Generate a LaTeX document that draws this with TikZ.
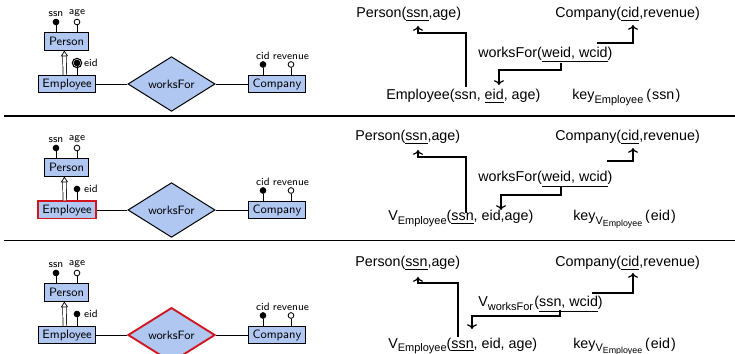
\documentclass[tikz,border=0pt]{standalone}
\usepackage{fontspec}
\newfontfamily\relfont{Liberation Sans}
\usetikzlibrary{shapes.geometric,arrows.meta}
\definecolor{erfill}{RGB}{176,199,242}
\definecolor{erred}{RGB}{210,20,30}
\newcommand{\relsub}[1]{\raisebox{-2.2pt}{\fontsize{7.7}{9}\selectfont #1}}
\newcommand{\relsubsub}[1]{\raisebox{-1.6pt}{\fontsize{6.2}{7}\selectfont #1}}
\tikzset{
	entity/.style={draw, fill=erfill, line width=0.7pt, font=\sffamily\fontsize{8.5}{10}\selectfont, inner xsep=3pt, inner ysep=2pt, text height=6.5pt, text depth=1.5pt},
	relship/.style={diamond, draw, fill=erfill, line width=0.7pt, font=\sffamily\fontsize{8.5}{10}\selectfont, minimum width=61pt, minimum height=31pt, inner sep=0pt},
	attr/.style={circle, draw, fill=black, inner sep=0pt, minimum size=4pt, line width=0.6pt},
	optattr/.style={attr, fill=white},
	attrlabel/.style={font=\sffamily\fontsize{7.5}{9}\selectfont, inner sep=1pt},
	keyring/.style={circle, draw, inner sep=0pt, minimum size=6.5pt, line width=0.8pt},
	isa/.style={double, double distance=2pt, line width=0.5pt, -{Triangle[open, length=4pt, width=5pt]}},
	fk/.style={->, line width=0.8pt},
	rel/.style={font=\relfont\fontsize{10}{12}\selectfont, inner sep=0pt, anchor=base west},
	rule/.style={line width=1pt}
}
\begin{document}
\begin{tikzpicture}[x=0.7pt,y=-0.7pt]
	\useasboundingbox (0,0) rectangle (735,354);
	% ER diagrams, one per row
	\foreach \i/\dy/\ecol/\ew/\rcol/\rw in {1/0/black/0.7pt/black/0.7pt, 2/126/erred/1.3pt/black/0.7pt, 3/251/black/0.7pt/erred/1.3pt}{
	\begin{scope}[shift={(0,\dy)}]
		\node[entity] (per\i) at (66.5,41.5) {Person};
		\node[entity, draw=\ecol, line width=\ew] (emp\i) at (67,84) {Employee};
		\node[relship, draw=\rcol, line width=\rw] (wf\i) at (171.5,84) {worksFor};
		\node[entity] (com\i) at (277,84) {Company};
		\node[attr, label={[attrlabel]above:ssn}] (ssn\i) at (56,22) {};
		\node[optattr, label={[attrlabel]above:age}] (age\i) at (77,22) {};
		\node[attr, label={[attrlabel, xshift=1.5pt]right:eid}] (eid\i) at (77,63) {};
		\node[attr, label={[attrlabel]above:cid}] (cid\i) at (263,64.5) {};
		\node[optattr, label={[attrlabel]above:revenue}] (rev\i) at (291,64.5) {};
		\draw[line width=0.6pt] (ssn\i) -- (ssn\i |- per\i.north);
		\draw[line width=0.6pt] (age\i) -- (age\i |- per\i.north);
		\draw[line width=0.6pt] (eid\i) -- (eid\i |- emp\i.north);
		\draw[line width=0.6pt] (cid\i) -- (cid\i |- com\i.north);
		\draw[line width=0.6pt] (rev\i) -- (rev\i |- com\i.north);
		\draw[line width=0.6pt] (emp\i) -- (wf\i) -- (com\i);
		\draw[isa] ([xshift=-1.5pt]emp\i.north) -- ([xshift=-1.5pt]per\i.south);
	\end{scope}
	}
	\node[keyring] (eidk1) at (eid1) {};

	% separators
	\draw[rule] (4,116) -- (735,116);
	\draw[rule] (4,240.5) -- (735,240.5);

	% relational schema, row 1
	\node[rel] (rper1) at (356,18) {Person(\underline{ssn},age)};
	\node[rel] (rcom1) at (555,18) {Company(\underline{cid},revenue)};
	\node[rel] (rwf1) at (478,57.5) {worksFor(\underline{weid, wcid})};
	\node[rel] (remp1) at (386,100) {Employee(ssn, \underline{eid}, age)};
	\node[rel] (rkey1) at (572,100) {key\relsub{Employee}\kern2pt(\kern0.8pt ssn\kern0.8pt)};
	\coordinate (ps1) at (418,26);
	\coordinate (cc1) at (633,25);
	\coordinate (wc1) at (597,43);
	\coordinate (we1) at (561,63);
	\coordinate (es1) at (466,87);
	\coordinate (ee1) at (499,85);
	\draw[fk] (es1) -- ++(0,-54) -| (ps1);
	\draw[fk] (wc1) -| (cc1);
	\draw[fk] (we1) -- ++(0,7) -| (ee1);

	% row 2
	\node[rel] (rper2) at (355,141) {Person(\underline{ssn},age)};
	\node[rel] (rcom2) at (555,141) {Company(\underline{cid},revenue)};
	\node[rel] (rwf2) at (478,182) {worksFor(\underline{weid, wcid})};
	\node[rel] (remp2) at (388,221) {V\relsub{Employee}(\underline{ssn}, eid,age)};
	\node[rel] (rkey2) at (573,221) {key\relsub{V\relsubsub{Employee}}\kern2pt(\kern0.8pt eid\kern0.8pt)};
	\coordinate (ps2) at (418,150);
	\coordinate (cc2) at (633,148);
	\coordinate (wc2) at (607,161);
	\coordinate (we2) at (561,186);
	\coordinate (es2) at (466,213);
	\coordinate (ee2) at (501,210);
	\draw[fk] (es2) -- ++(0,-56) -| (ps2);
	\draw[fk] (wc2) -| (cc2);
	\draw[fk] (we2) -- ++(0,9) -| (ee2);

	% row 3
	\node[rel] (rper3) at (355,267) {Person(\underline{ssn},age)};
	\node[rel] (rcom3) at (555,267) {Company(\underline{cid},revenue)};
	\node[rel] (rwf3) at (478,307) {V\relsub{worksFor}\kern1pt(\underline{ssn, wcid})};
	\node[rel] (remp3) at (388,348.5) {V\relsub{Employee}(\underline{ssn}, eid, age)};
	\node[rel] (rkey3) at (573,348.5) {key\relsub{V\relsubsub{Employee}}\kern2pt(\kern0.8pt eid\kern0.8pt)};
	\coordinate (ps3) at (418,277);
	\coordinate (cc3) at (633,273);
	\coordinate (wc3) at (592,293);
	\coordinate (ws3) at (560,310);
	\coordinate (es3) at (458,337);
	\coordinate (ee3) at (472,329);
	\draw[fk] (es3) -- ++(0,-54) -| (ps3);
	\draw[fk] (wc3) -| (cc3);
	\draw[fk] (ws3) -- ++(0,6) -| (ee3);
\end{tikzpicture}
\end{document}
